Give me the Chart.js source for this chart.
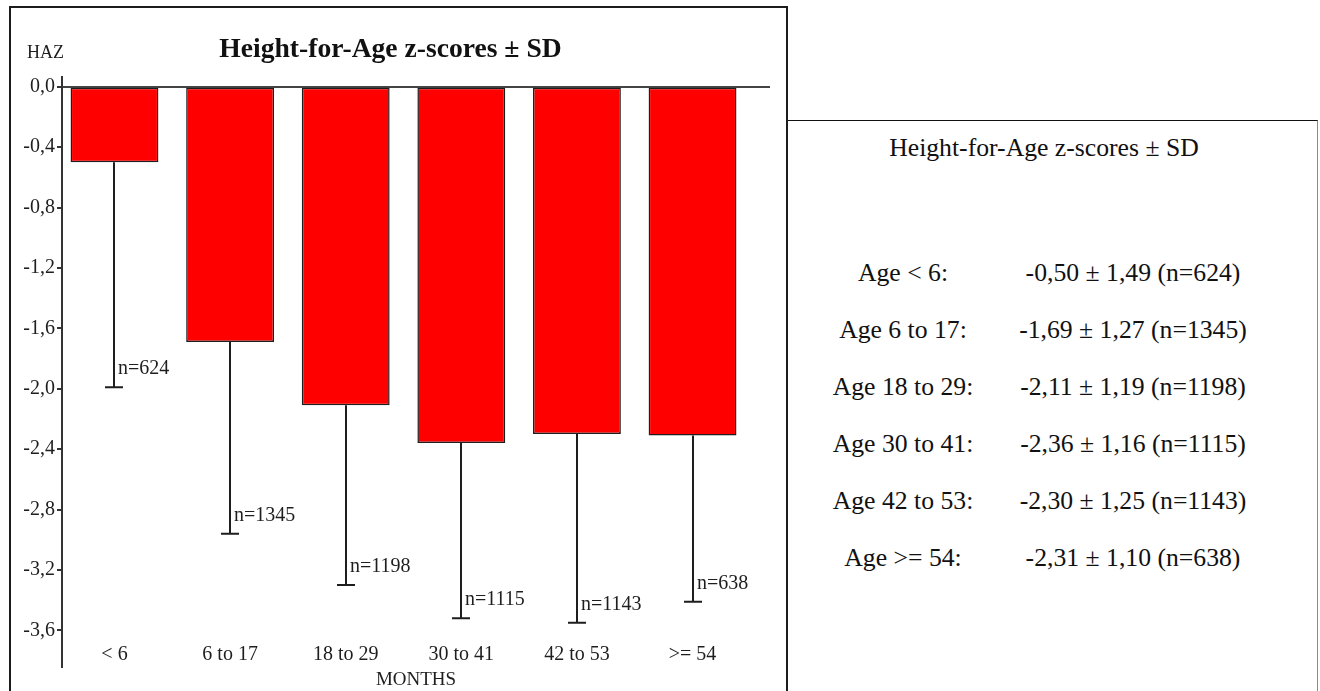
<!DOCTYPE html>
<html>
<head>
<meta charset="utf-8">
<script src="https://cdn.jsdelivr.net/npm/chart.js@4.4.1/dist/chart.umd.min.js"></script>
<style>
  body { margin: 0; background: #fff; font-family: "Liberation Serif", "Times New Roman", serif; overflow: hidden; }
  #chartBox { position: absolute; left: 9px; top: 6px; width: 775px; height: 720px; border: 2px solid #1c1c1c; border-bottom: none; }
  #chartBox canvas { position: absolute; left: 0; top: 0; }
  #summary { position: absolute; left: 788px; top: 120px; width: 529px; height: 600px; border-top: 1px solid #111; border-right: 1px solid #8a8a8a; color: #111; font-size: 25.7px; }
  #summary .title { position: absolute; left: 0; width: 512px; top: 12px; line-height: 30px; text-align: center; }
  #summary .row { position: absolute; left: 0; width: 529px; height: 30px; line-height: 30px; }
  #summary .lab { position: absolute; left: 0; width: 230px; text-align: center; }
  #summary .val { position: absolute; left: 195px; width: 300px; text-align: center; }
</style>
</head>
<body>
<div id="chartBox"><canvas id="haz" width="775" height="683"></canvas></div>
<div id="summary"><div class="title">Height-for-Age z-scores ± SD</div></div>
<script>
// age groups (months)
const categories = ['< 6', '6 to 17', '18 to 29', '30 to 41', '42 to 53', '>= 54'];
const means = [-0.50, -1.69, -2.11, -2.36, -2.30, -2.31];
const sds = [1.49, 1.27, 1.19, 1.16, 1.25, 1.10];
const counts = [624, 1345, 1198, 1115, 1143, 638];
const yTicks = [0, -0.4, -0.8, -1.2, -1.6, -2.0, -2.4, -2.8, -3.2, -3.6];

const ink = '#1e1e1e';
const comma = (v, d) => v.toFixed(d).replace('.', ',');

// lower SD whiskers + n labels
const whiskers = {
	id: 'whiskers',
	afterDatasetsDraw(chart) {
		const ctx = chart.ctx;
		const xs = chart.scales.x, ys = chart.scales.y;
		ctx.save();
		ctx.strokeStyle = ink;
		ctx.lineWidth = 2;
		ctx.fillStyle = ink;
		ctx.font = '20px "Liberation Serif"';
		ctx.textBaseline = 'middle';
		means.forEach((m, i) => {
			const x = Math.round(xs.getPixelForValue(i));
			const y0 = ys.getPixelForValue(m);
			const y1 = ys.getPixelForValue(m - sds[i]);
			ctx.beginPath();
			ctx.moveTo(x, y0);
			ctx.lineTo(x, y1);
			ctx.moveTo(x - 9, y1);
			ctx.lineTo(x + 9, y1);
			ctx.stroke();
			ctx.fillText('n=' + counts[i], x + 4, y1 - 18);
		});
		// y axis caption
		ctx.font = '18px "Liberation Serif"';
		ctx.fillText('HAZ', 16, 45);
		ctx.restore();
	}
};

new Chart(document.getElementById('haz'), {
	type: 'bar',
	plugins: [whiskers],
	data: {
		datasets: [{
			data: means.map((v, i) => ({ x: i, y: v })),
			backgroundColor: '#ff0000',
			borderColor: ink,
			borderWidth: 1.5,
			borderSkipped: false,
			categoryPercentage: 1,
			barPercentage: 0.76
		}]
	},
	options: {
		responsive: false,
		animation: false,
		layout: { padding: { left: 0, right: 16, top: 0, bottom: 0 } },
		plugins: {
			legend: { display: false },
			tooltip: { enabled: false },
			title: {
				display: true,
				text: 'Height-for-Age z-scores ± SD',
				color: '#111',
				font: { family: 'Liberation Serif', size: 27.6, weight: 'bold' },
				padding: { top: 25, bottom: 11 }
			}
		},
		scales: {
			x: {
				type: 'linear',
				offset: false,
				min: -0.454,
				max: 5.67,
				afterBuildTicks: s => { s.ticks = categories.map((c, i) => ({ value: i })); },
				afterFit: s => { s.height = 24; },
				grid: { display: false, drawTicks: false, tickLength: 0 },
				border: { display: false },
				ticks: {
					autoSkip: false,
					maxRotation: 0,
					mirror: true,
					padding: 0,
					color: ink,
					font: { family: 'Liberation Serif', size: 20 },
					callback: v => categories[v]
				},
				title: {
					display: true,
					text: 'MONTHS',
					color: ink,
					padding: 0,
					font: { family: 'Liberation Serif', size: 19 }
				}
			},
			y: {
				min: -3.843,
				max: 0.064,
				afterBuildTicks: s => { s.ticks = yTicks.map(v => ({ value: v })); },
				afterFit: s => { s.width = 51; },
				border: { display: true, color: '#333', width: 2 },
				grid: {
					color: c => c.tick && c.tick.value === 0 ? '#444' : 'rgba(0,0,0,0)',
					lineWidth: 2,
					tickLength: 5,
					tickColor: '#333',
					tickWidth: 2
				},
				ticks: {
					padding: 2,
					color: ink,
					font: { family: 'Liberation Serif', size: 20 },
					callback: v => comma(v, 1)
				}
			}
		}
	}
});

// right-hand summary text
const panel = document.getElementById('summary');
categories.forEach((c, i) => {
	const row = document.createElement('div');
	row.className = 'row';
	row.style.top = (137 + i * 57) + 'px';
	const lab = document.createElement('span');
	lab.className = 'lab';
	lab.textContent = 'Age ' + c + ':';
	const val = document.createElement('span');
	val.className = 'val';
	val.textContent = comma(means[i], 2) + ' ± ' + comma(sds[i], 2) + ' (n=' + counts[i] + ')';
	row.appendChild(lab);
	row.appendChild(val);
	panel.appendChild(row);
});
</script>
</body>
</html>
